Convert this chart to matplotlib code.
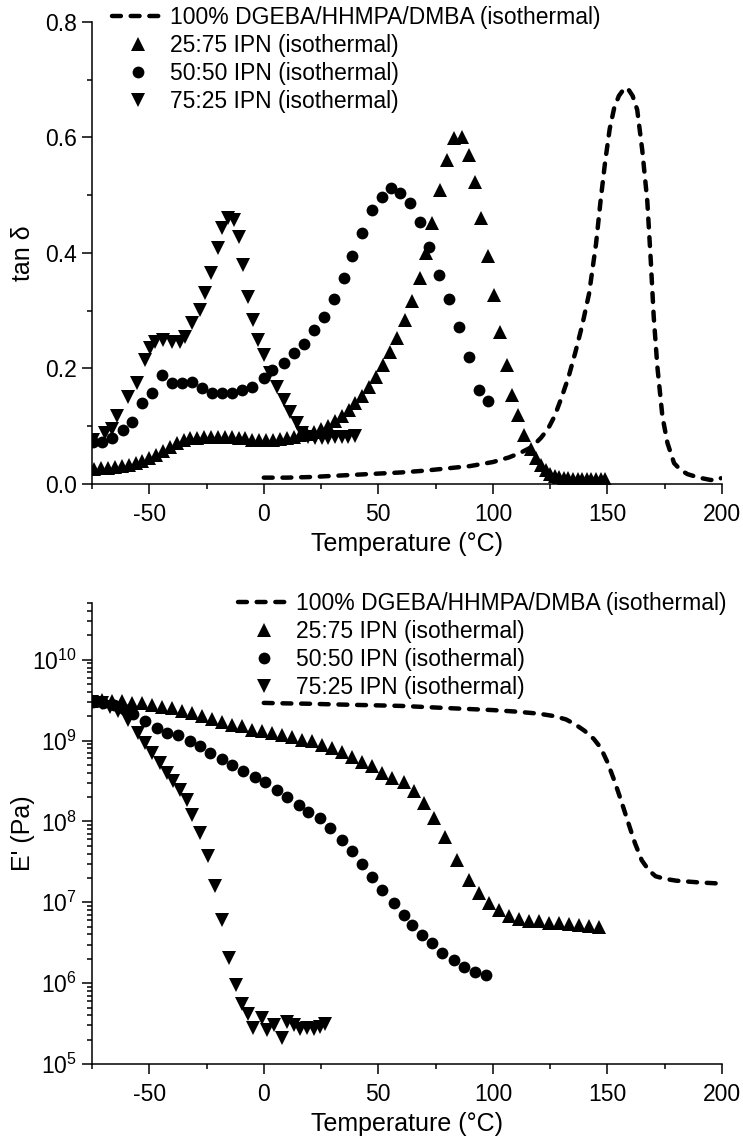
import numpy as np
import matplotlib
matplotlib.use("Agg")
import matplotlib.pyplot as plt
from matplotlib.ticker import MultipleLocator, LogLocator, NullFormatter
from matplotlib.lines import Line2D

plt.rcParams["font.family"] = ["Liberation Sans", "DejaVu Sans"]
plt.rcParams["mathtext.default"] = "regular"
plt.rcParams["axes.unicode_minus"] = False

LABELS = [
    "100% DGEBA/HHMPA/DMBA (isothermal)",
    "25:75 IPN (isothermal)",
    "50:50 IPN (isothermal)",
    "75:25 IPN (isothermal)",
]

# ---- tan delta ----
tan_neat_T = [0, 10, 20, 30, 40, 50, 60, 70, 80, 90, 100, 107, 112, 117, 121, 124, 127, 130,
              133, 136, 139, 142, 145, 147, 149, 151, 153, 155, 157, 158.7, 161, 163, 165.2,
              167.4, 168.9, 170.2, 171.8, 174, 176.2, 179.1, 182, 185, 190, 195, 198, 199.5]
tan_neat = [0.011, 0.011, 0.012, 0.014, 0.016, 0.018, 0.020, 0.023, 0.027, 0.031, 0.038, 0.046,
            0.054, 0.064, 0.080, 0.095, 0.118, 0.150, 0.185, 0.228, 0.275, 0.330, 0.415, 0.490,
            0.558, 0.615, 0.652, 0.672, 0.683, 0.686, 0.672, 0.648, 0.578, 0.490, 0.388, 0.290,
            0.203, 0.117, 0.071, 0.036, 0.024, 0.017, 0.011, 0.007, 0.007, 0.010]

tan_2575_T = [-74, -71, -68, -65, -62, -59, -56, -53, -50, -47, -44, -41, -38, -35, -32, -29, -26,
              -23, -20, -17, -14, -11, -8, -5, -2, 1, 4, 7, 10, 13, 16, 19, 22, 25, 28, 31, 34, 37,
              40, 43, 46, 49, 52, 55, 58, 61.8, 64.8, 68.0, 70.8, 73.5, 76.8, 80.0, 82.9, 86.6,
              89.5, 92.4, 94.9, 97.8, 100.4, 103.3, 106.0, 108.4, 110.9, 113.8, 116.5, 118.8,
              121, 123, 125, 127, 129, 131, 133, 135, 137, 139, 141, 143, 145, 147, 149]
tan_2575 = [0.026, 0.027, 0.028, 0.029, 0.031, 0.033, 0.036, 0.040, 0.045, 0.050, 0.057, 0.064,
            0.071, 0.076, 0.079, 0.080, 0.081, 0.081, 0.081, 0.081, 0.081, 0.080, 0.079, 0.077,
            0.076, 0.076, 0.077, 0.078, 0.080, 0.082, 0.084, 0.087, 0.090, 0.095, 0.101, 0.109,
            0.118, 0.128, 0.140, 0.153, 0.168, 0.186, 0.206, 0.228, 0.252, 0.284, 0.316, 0.356,
            0.400, 0.452, 0.509, 0.561, 0.599, 0.601, 0.570, 0.523, 0.460, 0.394, 0.327, 0.264,
            0.206, 0.154, 0.119, 0.085, 0.060, 0.045, 0.033, 0.024, 0.018, 0.014, 0.012, 0.011,
            0.010, 0.009, 0.009, 0.008, 0.008, 0.008, 0.008, 0.008, 0.008]

tan_5050_T = [-74.4, -70.8, -66.4, -61.3, -57.7, -53.3, -48.9, -44.5, -40.2, -35.8, -31.4, -27.1,
              -22.7, -18.3, -13.9, -9.6, -5.2, -0.1, 3.5, 8.6, 13.0, 17.4, 21.7, 26.1, 30.5, 34.9,
              38.5, 42.9, 47.3, 51.6, 55.7, 59.6, 64.0, 68.4, 72.0, 76.4, 80.7, 85.1, 89.5, 93.8,
              97.9]
tan_5050 = [0.073, 0.073, 0.079, 0.093, 0.108, 0.140, 0.157, 0.189, 0.175, 0.175, 0.177, 0.166,
            0.158, 0.157, 0.157, 0.163, 0.168, 0.183, 0.197, 0.209, 0.226, 0.243, 0.266, 0.290,
            0.321, 0.356, 0.394, 0.434, 0.474, 0.497, 0.512, 0.504, 0.486, 0.454, 0.411, 0.362,
            0.320, 0.272, 0.220, 0.163, 0.143]

tan_7525_T = [-74.4, -69.3, -66.4, -64.2, -59.1, -55.5, -51.8, -49.6, -47.5, -43.8, -40.2, -36.5,
              -34.4, -31.4, -27.8, -25.6, -23.0, -20.1, -18.3, -15.7, -13.2, -11.0, -8.9, -6.7,
              -4.5, -2.6, -0.1, 2.8, 5.7, 8.6, 11.5, 14.5, 16.7, 19.5, 22.4, 25.3, 28.2, 31.1,
              34.0, 36.9, 39.8]
tan_7525 = [0.076, 0.088, 0.096, 0.117, 0.151, 0.175, 0.215, 0.235, 0.246, 0.249, 0.246, 0.246,
            0.255, 0.279, 0.301, 0.330, 0.365, 0.408, 0.443, 0.460, 0.457, 0.428, 0.379, 0.324,
            0.284, 0.249, 0.223, 0.192, 0.168, 0.145, 0.125, 0.105, 0.088, 0.082, 0.080, 0.079,
            0.080, 0.081, 0.082, 0.082, 0.083]

# ---- storage modulus (Pa) ----
mod_neat_T = [0, 10, 20, 30, 40, 50, 60, 70, 80, 90, 100, 110, 120, 127, 132, 136, 140, 144,
              147, 150, 153, 156, 159, 162, 165, 168, 171, 175, 180, 190, 200]
mod_neat = [2.92e9, 2.88e9, 2.85e9, 2.80e9, 2.76e9, 2.72e9, 2.68e9, 2.60e9, 2.52e9, 2.45e9,
            2.38e9, 2.28e9, 2.15e9, 2.00e9, 1.82e9, 1.58e9, 1.32e9, 1.05e9, 8.2e8, 5.4e8, 3.2e8,
            1.8e8, 9.8e7, 5.4e7, 3.3e7, 2.5e7, 2.1e7, 1.95e7, 1.85e7, 1.76e7, 1.70e7]

mod_2575_T = [-75.0, -70.8, -66.4, -62.0, -57.7, -53.3, -48.9, -44.5, -40.2, -35.8, -31.4, -27.1,
              -22.7, -18.3, -13.9, -9.6, -5.2, -0.8, 3.5, 7.9, 12.3, 16.7, 21.0, 25.4, 29.8, 34.2,
              38.5, 42.9, 47.3, 51.6, 56.0, 61.1, 65.4, 69.8, 74.2, 79.3, 84.4, 89.5, 93.8, 98.2,
              102.6, 107.0, 111.3, 115.7, 120.1, 124.5, 128.8, 133.2, 137.6, 142.0, 146.3]
mod_2575 = [3.05e9, 3.2e9, 3.05e9, 3.05e9, 2.91e9, 2.91e9, 2.77e9, 2.63e9, 2.51e9, 2.29e9,
            2.19e9, 2.03e9, 1.85e9, 1.70e9, 1.57e9, 1.50e9, 1.36e9, 1.30e9, 1.24e9, 1.17e9,
            1.12e9, 1.02e9, 9.8e8, 8.9e8, 8.1e8, 7.3e8, 6.3e8, 5.5e8, 4.8e8, 4.0e8, 3.4e8,
            3.1e8, 2.35e8, 1.69e8, 1.10e8, 6.5e7, 3.35e7, 1.89e7, 1.29e7, 9.8e6, 8.1e6, 6.8e6,
            6.2e6, 5.9e6, 5.8e6, 5.6e6, 5.5e6, 5.4e6, 5.25e6, 5.1e6, 5.0e6]

mod_5050_T = [-74.4, -70.0, -65.5, -61.2, -56.9, -51.8, -46.7, -42.4, -37.3, -32.2, -27.8, -23.4,
              -18.3, -13.9, -8.9, -3.8, 0.6, 5.7, 10.1, 15.2, 19.5, 24.6, 29.0, 34.1, 38.5, 42.9,
              47.3, 51.6, 56.7, 61.1, 64.8, 69.2, 73.5, 77.9, 83.0, 87.3, 92.4, 97.2]
mod_5050 = [3.0e9, 2.95e9, 2.75e9, 2.45e9, 2.14e9, 1.76e9, 1.43e9, 1.24e9, 1.16e9, 9.8e8,
            8.5e8, 7.1e8, 5.9e8, 5.0e8, 4.2e8, 3.5e8, 3.06e8, 2.45e8, 2.0e8, 1.6e8, 1.32e8,
            1.10e8, 8.3e7, 5.9e7, 4.25e7, 2.99e7, 2.08e7, 1.42e7, 9.8e6, 7.0e6, 5.25e6, 3.95e6,
            3.12e6, 2.39e6, 1.94e6, 1.60e6, 1.39e6, 1.26e6]

mod_7525_T = [-75.0, -70.8, -67.1, -63.5, -59.1, -54.7, -51.8, -48.9, -45.3, -42.4, -39.5, -36.5,
              -33.6, -31.4, -27.8, -24.5, -21.2, -18.3, -15.4, -12.2, -9.6, -6.7, -4.5, -0.8, 1.4,
              4.3, 7.9, 10.1, 13.0, 15.9, 18.8, 21.7, 24.6, 26.8]
mod_7525 = [3.0e9, 2.9e9, 2.63e9, 2.29e9, 1.81e9, 1.24e9, 9.3e8, 7.0e8, 5.25e8, 4.0e8, 3.12e8,
            2.45e8, 1.85e8, 1.20e8, 7.2e7, 3.7e7, 1.57e7, 6.0e6, 2.03e6, 9.5e5, 5.6e5, 4.1e5,
            2.8e5, 3.67e5, 2.63e5, 3.0e5, 2.08e5, 3.3e5, 3.0e5, 2.75e5, 2.8e5, 2.75e5, 2.9e5,
            3.1e5]

FS = 16.5        # tick labels and legend
FS_LABEL = 18    # axis titles
dash_kw = dict(color="black", lw=3.2, linestyle=(0, (2.0, 2.2)), dash_capstyle="round")
tri_kw = dict(color="black", linestyle="none", markersize=10, markeredgewidth=0)
dot_kw = dict(color="black", linestyle="none", marker="o", markersize=8.5, markeredgewidth=0)

fig = plt.figure(figsize=(7.43, 11.38), dpi=100)
ax1 = fig.add_axes([0.1238, 0.5747, 0.8479, 0.406])
ax2 = fig.add_axes([0.1238, 0.0650, 0.8479, 0.405])


def style_axis(ax):
    for side in ("top", "right"):
        ax.spines[side].set_visible(False)
    for side in ("left", "bottom"):
        ax.spines[side].set_linewidth(1.1)
    ax.tick_params(which="major", direction="out", length=7.2, width=1.1, labelsize=FS)
    ax.tick_params(axis="x", which="major", pad=6.5)
    ax.tick_params(which="minor", direction="out", length=3.6, width=1.1)
    ax.set_xlim(-75, 200)
    ax.xaxis.set_major_locator(MultipleLocator(50))
    ax.xaxis.set_minor_locator(MultipleLocator(25))
    ax.set_xlabel("Temperature (\u00b0C)", fontsize=FS_LABEL, labelpad=4)


# tan delta panel
ax1.plot(tan_neat_T, tan_neat, **dash_kw, zorder=3)
ax1.plot(tan_2575_T, tan_2575, marker="^", **tri_kw)
ax1.plot(tan_5050_T, tan_5050, **dot_kw)
ax1.plot(tan_7525_T, tan_7525, marker="v", **tri_kw)
style_axis(ax1)
ax1.set_ylim(0, 0.8)
ax1.yaxis.set_major_locator(MultipleLocator(0.2))
ax1.yaxis.set_minor_locator(MultipleLocator(0.1))
ax1.yaxis.set_major_formatter(plt.FormatStrFormatter("%.1f"))
ax1.set_ylabel("tan \u03b4", fontsize=FS_LABEL)
ax1.yaxis.set_label_coords(-0.09, 0.5)

# storage modulus panel
ax2.plot(mod_neat_T, mod_neat, **dash_kw, zorder=3)
ax2.plot(mod_2575_T, mod_2575, marker="^", **tri_kw)
ax2.plot(mod_5050_T, mod_5050, **dot_kw)
ax2.plot(mod_7525_T, mod_7525, marker="v", **tri_kw)
style_axis(ax2)
ax2.set_yscale("log")
ax2.set_ylim(1e5, 5e10)
ax2.yaxis.set_major_locator(LogLocator(base=10, numticks=20))
ax2.yaxis.set_minor_locator(LogLocator(base=10, subs=np.arange(2, 10), numticks=20))
ax2.yaxis.set_minor_formatter(NullFormatter())
ax2.set_ylabel("E' (Pa)", fontsize=FS_LABEL)
ax2.yaxis.set_label_coords(-0.09, 0.5)

handles = [
    Line2D([], [], **dash_kw),
    Line2D([], [], marker="^", **tri_kw),
    Line2D([], [], **dot_kw),
    Line2D([], [], marker="v", **tri_kw),
]
leg_kw = dict(frameon=False, fontsize=FS, loc="upper left", borderpad=0, borderaxespad=0,
              handlelength=2.3, handletextpad=0.25, labelspacing=0.22, numpoints=1)
fig.legend(handles, LABELS, bbox_to_anchor=(0.1507, 0.995), **leg_kw)
fig.legend(handles, LABELS, bbox_to_anchor=(0.3203, 0.4795), **leg_kw)

fig.savefig("out.png", dpi=100)
